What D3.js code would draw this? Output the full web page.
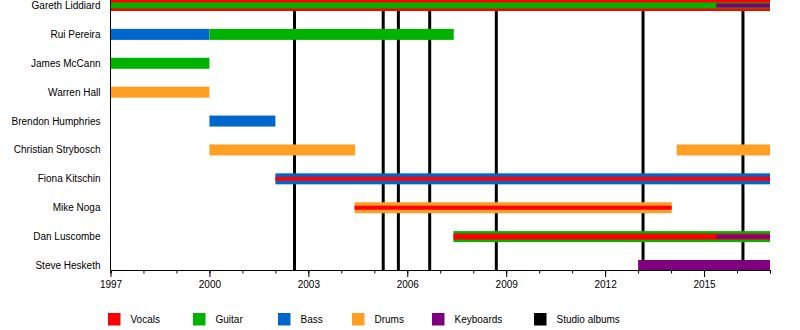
<!DOCTYPE html>
<html>
<head>
<meta charset="utf-8">
<script src="https://cdn.jsdelivr.net/npm/d3@7/dist/d3.min.js"></script>
<style>
  html, body { margin: 0; padding: 0; background: #fff; }
  svg { display: block; font-family: "Liberation Sans", Arial, sans-serif; }
</style>
</head>
<body>
<svg id="chart" width="800" height="330"></svg>
<script>
// Band members, top to bottom
const members = [
  "Gareth Liddiard", "Rui Pereira", "James McCann", "Warren Hall",
  "Brendon Humphries", "Christian Strybosch", "Fiona Kitschin",
  "Mike Noga", "Dan Luscombe", "Steve Hesketh"
];

// Instruments shown in the legend
const roles = ["Vocals", "Guitar", "Bass", "Drums", "Keyboards"];

// Membership stints: member, role, start year, end year
// (a stint listed later that overlaps an earlier one for the same member is drawn inside it)
const stintMember = [
  "Gareth Liddiard", "Gareth Liddiard", "Gareth Liddiard",
  "Rui Pereira", "Rui Pereira",
  "James McCann",
  "Warren Hall",
  "Brendon Humphries",
  "Christian Strybosch", "Christian Strybosch",
  "Fiona Kitschin", "Fiona Kitschin",
  "Mike Noga", "Mike Noga",
  "Dan Luscombe", "Dan Luscombe", "Dan Luscombe",
  "Steve Hesketh"
];
const stintRole = [
  "Vocals", "Guitar", "Keyboards",
  "Bass", "Guitar",
  "Guitar",
  "Drums",
  "Bass",
  "Drums", "Drums",
  "Bass", "Vocals",
  "Drums", "Vocals",
  "Guitar", "Vocals", "Keyboards",
  "Keyboards"
];
const stintStart = [
  1997, 1997, 2015.37,
  1997, 2000,
  1997,
  1997,
  2000,
  2000, 2014.17,
  2002, 2002,
  2004.4, 2004.4,
  2007.4, 2007.4, 2015.37,
  2013
];
const stintEnd = [
  2017, 2017, 2017,
  2000, 2007.41,
  2000,
  2000,
  2002,
  2004.42, 2017,
  2017, 2017,
  2014.02, 2014.02,
  2017, 2017, 2017,
  2017
];

// Studio album release dates (decimal years)
const albumDates = [2002.58, 2005.27, 2005.73, 2006.68, 2008.7, 2013.15, 2016.18];

// Axis
const yearDomain = [1997, 2017];
const majorTickYears = [1997, 2000, 2003, 2006, 2009, 2012, 2015];

// Legend entries
const legendLabels = ["Vocals", "Guitar", "Bass", "Drums", "Keyboards", "Studio albums"];

// ---- styling ----
const roleColor = {
  Vocals: "#ff0000",
  Guitar: "#00b300",
  Bass: "#0066cc",
  Drums: "#ff9f24",
  Keyboards: "#7f007f",
  "Studio albums": "#000000"
};

const svg = d3.select("#chart");
const plotLeft = 110.5, plotRight = 770, plotTop = 0, plotBottom = 270;

const x = d3.scaleLinear().domain(yearDomain).range([plotLeft, plotRight]);
const y = d3.scalePoint().domain(members).range([5.5, 265.5]);

// Build stint records and work out nesting depth
const stints = stintMember.map((m, i) => ({
  member: m, role: stintRole[i], from: stintStart[i], to: stintEnd[i]
}));
stints.forEach((s, i) => {
  s.layer = stints.slice(0, i).filter(o =>
    o.member === s.member && o.from < s.to && s.from < o.to).length;
});
const depth = {};
stints.forEach(s => { depth[s.member] = Math.max(depth[s.member] || 0, s.layer + 1); });
const layerHeights = { 1: [11], 2: [11, 4], 3: [11, 6, 4] };

// Studio album lines (behind bars)
svg.append("g")
  .selectAll("line")
  .data(albumDates)
  .join("line")
  .attr("x1", d => x(d)).attr("x2", d => x(d))
  .attr("y1", plotTop).attr("y2", plotBottom)
  .attr("stroke", "#000").attr("stroke-width", 3);

// Bars, outer layers first
svg.append("g")
  .selectAll("rect")
  .data(stints.slice().sort((a, b) => a.layer - b.layer))
  .join("rect")
  .attr("x", d => x(d.from))
  .attr("width", d => x(d.to) - x(d.from))
  .attr("y", d => y(d.member) - layerHeights[depth[d.member]][d.layer] / 2)
  .attr("height", d => layerHeights[depth[d.member]][d.layer])
  .attr("fill", d => roleColor[d.role]);

// Member names
svg.append("g")
  .selectAll("text")
  .data(members)
  .join("text")
  .attr("x", 100.5)
  .attr("y", d => y(d))
  .attr("dy", "0.35em")
  .attr("text-anchor", "end")
  .attr("font-size", 10)
  .attr("fill", "#000")
  .text(d => d);

// Left edge
svg.append("line")
  .attr("x1", plotLeft).attr("x2", plotLeft)
  .attr("y1", plotTop).attr("y2", plotBottom)
  .attr("stroke", "#000").attr("stroke-width", 1);

// Time axis: yearly minor ticks, labelled major ticks every three years
const minorAxis = d3.axisBottom(x)
  .tickValues(d3.range(yearDomain[0], yearDomain[1] + 1))
  .tickSize(3.5).tickFormat("");
svg.append("g")
  .attr("transform", `translate(0,${plotBottom})`)
  .call(minorAxis)
  .call(g => g.select(".domain").attr("stroke", "#000"))
  .call(g => g.selectAll(".tick line").attr("stroke", "#000"));

const majorAxis = d3.axisBottom(x)
  .tickValues(majorTickYears)
  .tickSize(7).tickPadding(4)
  .tickFormat(d3.format("d"));
svg.append("g")
  .attr("transform", `translate(0,${plotBottom})`)
  .call(majorAxis)
  .call(g => g.select(".domain").remove())
  .call(g => g.selectAll(".tick line").attr("stroke", "#000"))
  .call(g => g.selectAll(".tick text")
    .attr("font-size", 10)
    .attr("font-family", '"Liberation Sans", Arial, sans-serif')
    .attr("fill", "#000"));

// Legend
const legendX = [108, 193, 278, 352, 432, 534];
const legend = svg.append("g")
  .selectAll("g")
  .data(legendLabels)
  .join("g")
  .attr("transform", (d, i) => `translate(${legendX[i]},313)`);
legend.append("rect")
  .attr("width", 12.5).attr("height", 12.5)
  .attr("fill", d => roleColor[d]);
legend.append("text")
  .attr("x", 22.5).attr("y", 6.5)
  .attr("dy", "0.35em")
  .attr("font-size", 10)
  .attr("fill", "#000")
  .text(d => d);
</script>
</body>
</html>
